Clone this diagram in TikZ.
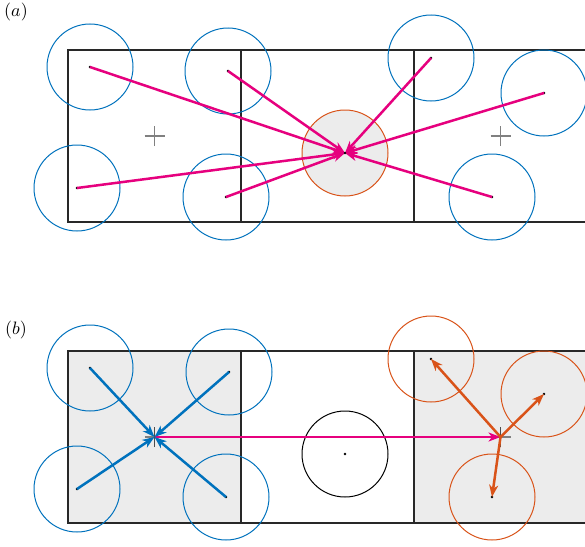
\documentclass[tikz,border=0pt]{standalone}
\usetikzlibrary{arrows.meta}
\definecolor{mblue}{RGB}{0,114,189}
\definecolor{morange}{RGB}{217,83,25}
\definecolor{mmag}{RGB}{230,0,126}
\definecolor{cellgray}{RGB}{236,236,236}
\definecolor{boxline}{RGB}{40,40,40}
\begin{document}
\begin{tikzpicture}[x=1pt,y=-1pt,
  boxln/.style={draw=boxline,line width=1.1pt},
  bluecirc/.style={draw=mblue,line width=1pt},
  orangecirc/.style={draw=morange,line width=1pt},
  blackcirc/.style={draw=black,line width=1pt},
  dotc/.style={fill=black},
  crossln/.style={draw=gray,line width=1.1pt},
  magarrow/.style={draw=mmag,line width=2.5pt,-{Stealth[length=12pt,width=9pt,inset=3.5pt]}},
  bluearrow/.style={draw=mblue,line width=2.5pt,-{Stealth[length=12pt,width=9pt,inset=3.5pt]}},
  orangearrow/.style={draw=morange,line width=2.5pt,-{Stealth[length=12pt,width=9pt,inset=3.5pt]}},
  lbl/.style={scale=1.8}
]
\clip (0,0) rectangle (585,546);
\fill[white] (0,0) rectangle (585,546);

% ---------- panel (a) ----------
\node[lbl] (la) at (16,12) {$(a)$};
\coordinate (a1) at (90,67);
\coordinate (a2) at (228,71);
\coordinate (a3) at (77,188);
\coordinate (a4) at (226,197);
\coordinate (a5) at (431,58);
\coordinate (a6) at (544,93);
\coordinate (a7) at (492,197);
\coordinate (ac) at (345,153);
\coordinate (ax1) at (154.5,136);
\coordinate (ax2) at (500.5,136);

\fill[cellgray] (ac) circle (43);
\draw[orangecirc] (ac) circle (43);
\draw[boxln] (68,50) rectangle (600,222);
\draw[boxln] (241,50) -- (241,222);
\draw[boxln] (414,50) -- (414,222);
\foreach \c in {ax1,ax2}{
  \draw[crossln] ([xshift=-10pt]\c) -- ([xshift=10pt]\c);
  \draw[crossln] ([yshift=-10pt]\c) -- ([yshift=10pt]\c);
}
\foreach \p in {a1,a2,a3,a4,a5,a6,a7}{
  \draw[bluecirc] (\p) circle (43);
}
\foreach \p in {a1,a2,a3,a4,a5,a6,a7}{
  \fill[dotc] (\p) circle (1.4);
  \draw[magarrow] (\p) -- (ac);
}
\fill[dotc] (ac) circle (1.4);

% ---------- panel (b) ----------
\node[lbl] (lb) at (16,330) {$(b)$};
\coordinate (b1) at (90,368);
\coordinate (b2) at (229,372);
\coordinate (b3) at (77,489);
\coordinate (b4) at (226,497);
\coordinate (bo1) at (431,359);
\coordinate (bo2) at (544,394);
\coordinate (bo3) at (492,497);
\coordinate (bc) at (345,454);
\coordinate (bx1) at (154.5,437);
\coordinate (bx2) at (500.5,437);

\fill[cellgray] (68,351) rectangle (241,523);
\fill[cellgray] (414,351) rectangle (600,523);
\draw[boxln] (68,351) rectangle (600,523);
\draw[boxln] (241,351) -- (241,523);
\draw[boxln] (414,351) -- (414,523);
\foreach \c in {bx1,bx2}{
  \draw[crossln] ([xshift=-10pt]\c) -- ([xshift=10pt]\c);
  \draw[crossln,draw=black!70] ([yshift=-10pt]\c) -- ([yshift=10pt]\c);
}
\draw[blackcirc] (bc) circle (43);
\fill[dotc] (bc) circle (1.4);
\foreach \p in {b1,b2,b3,b4}{
  \draw[bluecirc] (\p) circle (43);
  \fill[dotc] (\p) circle (1.4);
}
\foreach \p in {bo1,bo2,bo3}{
  \draw[orangecirc] (\p) circle (43);
  \fill[dotc] (\p) circle (1.4);
}
\draw[magarrow] (bx1) -- (bx2);
\foreach \p in {b1,b2,b3,b4}{
  \draw[bluearrow] (\p) -- (bx1);
}
\foreach \p in {bo1,bo2,bo3}{
  \draw[orangearrow] (bx2) -- (\p);
}
\end{tikzpicture}
\end{document}
